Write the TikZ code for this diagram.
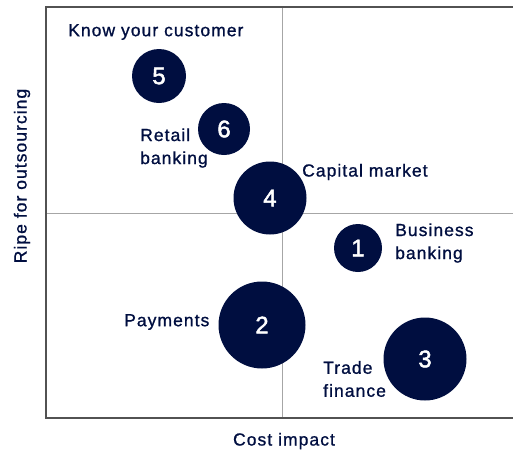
\documentclass[tikz,border=0pt]{standalone}
\usepackage{fontspec}
\setmainfont{Liberation Sans}[LetterSpace=6,FakeBold=1]
\newfontfamily\numfont{Liberation Sans}[FakeBold=2]
\begin{document}
\begin{tikzpicture}[x=1pt,y=-1pt,
  frame/.style={draw=black!68,line width=2.2pt},
  divider/.style={draw=black!35,line width=0.9pt},
  bubble/.style={circle,fill=navy,inner sep=0pt,text=white,font=\numfont\fontsize{24}{24}\selectfont},
  lbl/.style={text=navy,inner sep=0pt,font=\fontsize{17.5}{23}\selectfont,align=left},
  axislbl/.style={text=navy,inner sep=0pt,font=\fontsize{17.5}{20}\selectfont}]
\definecolor{navy}{RGB}{0,14,64}
\useasboundingbox (0,0) rectangle (513,450);
\coordinate (tl) at (46,7);
\coordinate (tr) at (513,7);
\coordinate (bl) at (46,418);
\coordinate (br) at (513,418);
\coordinate (vt) at (282,7);
\coordinate (vb) at (282,418);
\coordinate (hl) at (46,213);
\coordinate (hr) at (513,213);
\draw[divider] (vt) -- (vb);
\draw[divider] (hl) -- (hr);
\draw[frame] (tr) -- (tl) -- (bl) -- (br);
\node[bubble,minimum size=54] (b5) at (159,76) {5};
\node[bubble,minimum size=52] (b6) at (224,129) {6};
\node[bubble,minimum size=73] (b4) at (270,198) {4};
\node[bubble,minimum size=48] (b1) at (358,248) {1};
\node[bubble,minimum size=87] (b2) at (262,325) {2};
\node[bubble,minimum size=83] (b3) at (425,359) {3};
\node[lbl,anchor=west] (l5) at (68,32) {Know your customer};
\node[lbl,anchor=west] (l6) at (140,148) {Retail\\banking};
\node[lbl,anchor=west] (l4) at (302,172) {Capital market};
\node[lbl,anchor=west] (l1) at (395,243) {Business\\banking};
\node[lbl,anchor=west] (l2) at (124,322) {Payments};
\node[lbl,anchor=west] (l3) at (323,379) {Trade\\finance};
\node[axislbl,rotate=90] (ya) at (22,176) {Ripe for outsourcing};
\node[axislbl] (xa) at (284,441) {Cost impact};
\end{tikzpicture}
\end{document}
